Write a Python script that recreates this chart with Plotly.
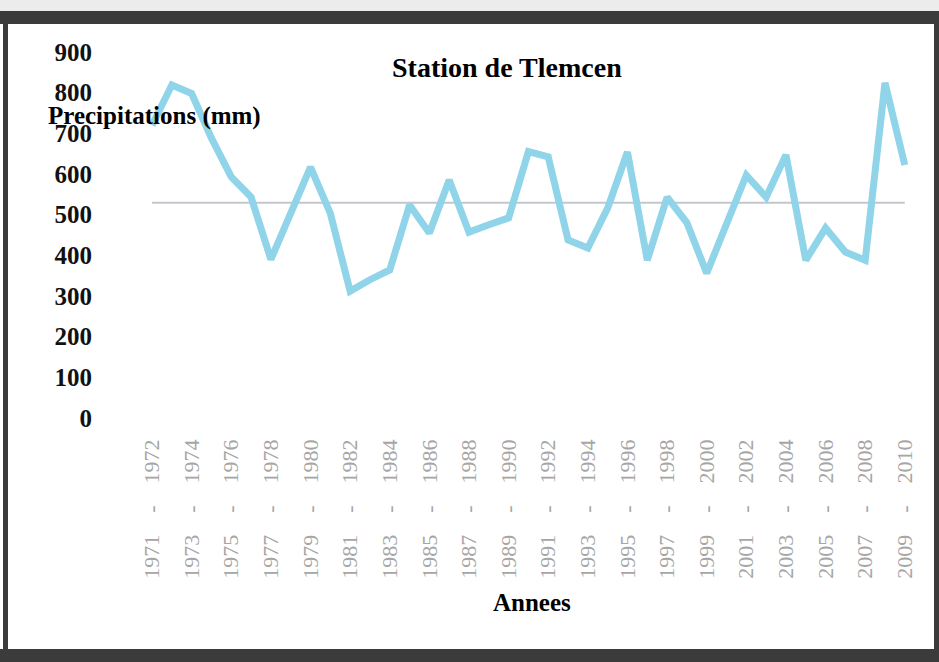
import numpy as np
import plotly.graph_objects as go

# Hydrological years (Sept-Aug) and annual rainfall at Tlemcen, mm
annees_debut = list(range(1971, 2010))
saisons = [f"{a}-{a + 1}" for a in annees_debut]
precipitations = [
    720, 819, 798, 688, 593, 543, 390, 505, 617, 503,
    312, 340, 364, 524, 455, 585, 457, 475, 492, 655,
    642, 438, 418, 516, 654, 388, 543, 480, 356, 477,
    597, 543, 647, 388, 467, 408, 388, 824, 622,
]
moyenne = float(np.mean(precipitations))

# every second season carries a rotated label "1971 - 1972"
nb = "\u00a0" * 4
tick_saisons = saisons[::2]
tick_textes = [f"{a}{nb}-{nb}{a + 1}" for a in annees_debut[::2]]

W, H = 939, 662
ML, MR, MT, MB = 93, 14, 52, 244
PW, PH = W - ML - MR, H - MT - MB


def px(x):
    return (x - ML) / PW


def py(y):
    return 1 - (y - MT) / PH


serif = "Liberation Serif, Times New Roman, serif"

fig = go.Figure()

# long-term mean
fig.add_trace(go.Scatter(
    x=saisons, y=[moyenne] * len(saisons), mode="lines",
    line=dict(color="#c2c6cf", width=2), hoverinfo="skip", showlegend=False,
))

# annual series
fig.add_trace(go.Scatter(
    x=saisons, y=precipitations, mode="lines",
    line=dict(color="#8fd4e8", width=7), showlegend=False,
))

fig.update_xaxes(
    type="category", range=[-2.98, 39.02],
    tickmode="array", tickvals=tick_saisons, ticktext=tick_textes,
    tickangle=-90, ticklabelstandoff=16,
    tickfont=dict(family=serif, size=22, color="#a6a6a6"),
    showgrid=False, zeroline=False, showline=False, ticks="",
)
fig.update_yaxes(
    range=[0, 900], tickvals=list(range(0, 901, 100)),
    tickfont=dict(family=serif, size=25, color="#111111", weight="bold"),
    showgrid=False, zeroline=False, showline=False, ticks="",
)

frame = "#3b3b3b"
shapes = [
    # light strip above the frame
    dict(x0=px(0), x1=px(W), y0=py(0), y1=py(11), fillcolor="#ececec"),
    # dark frame bands
    dict(x0=px(0), x1=px(W), y0=py(11), y1=py(24), fillcolor=frame),
    dict(x0=px(0), x1=px(W), y0=py(649), y1=py(H), fillcolor=frame),
    dict(x0=px(3), x1=px(8), y0=py(11), y1=py(H), fillcolor=frame),
    dict(x0=px(934), x1=px(W), y0=py(11), y1=py(H), fillcolor=frame),
]
for s in shapes:
    s.update(type="rect", xref="paper", yref="paper", line_width=0, layer="above")

annotations = [
    dict(text="Station de Tlemcen", x=px(507), y=py(67), xanchor="center",
         font=dict(family=serif, size=28, color="#000000", weight="bold")),
    dict(text="Precipitations (mm)", x=px(46), y=py(116), xanchor="left",
         font=dict(family=serif, size=25, color="#000000", weight="bold")),
    dict(text="Annees", x=px(532), y=py(602), xanchor="center",
         font=dict(family=serif, size=25, color="#000000", weight="bold")),
]
for a in annotations:
    a.update(xref="paper", yref="paper", yanchor="middle", showarrow=False)

fig.update_layout(
    width=W, height=H,
    margin=dict(l=ML, r=MR, t=MT, b=MB, pad=0),
    paper_bgcolor="white", plot_bgcolor="white",
    shapes=shapes, annotations=annotations,
)

fig.write_html("out.html")
